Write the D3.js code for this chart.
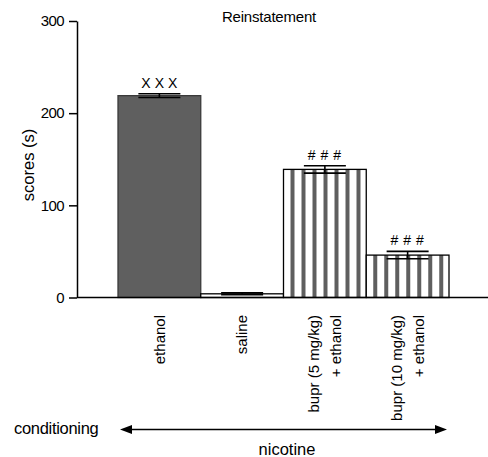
<!DOCTYPE html>
<html>
<head>
<meta charset="utf-8">
<script src="https://cdn.jsdelivr.net/npm/d3@7"></script>
<style>
  html, body { margin: 0; padding: 0; background: #fff; }
  svg { display: block; font-family: "Liberation Sans", Arial, Helvetica, sans-serif; }
</style>
</head>
<body>
<svg id="chart" width="488" height="457"></svg>
<script>
// ---- data ----
const categories = ["ethanol", "saline", "bupr5", "bupr10"];
const categoryLabels = [["ethanol"], ["saline"], ["bupr (5 mg/kg)", "+ ethanol"], ["bupr (10 mg/kg)", "+ ethanol"]];
const meanScores = [219, 4, 139, 46];
const semScores = [2, 1, 4, 4];
const sigLabels = ["XXX", "", "###", "###"];
const yTicks = [0, 100, 200, 300];
const chartTitle = "Reinstatement";
const yTitle = "scores (s)";
const conditioningLabel = "conditioning";
const drugLabel = "nicotine";

// ---- styles (by index) ----
const barStyle = ["solid", "white", "stripe", "stripe"];
const GRAY = "#5f5f5f";

const svg = d3.select("#chart");
const defs = svg.append("defs");

const x = d3.scaleBand().domain(categories).range([118, 449]).padding(0);
const y = d3.scaleLinear().domain([0, 300]).range([297.5, 21]);
const bw = x.bandwidth();

// stripe patterns
categories.forEach((c, i) => {
  if (barStyle[i] !== "stripe") return;
  const p = defs.append("pattern")
    .attr("id", "stripe" + i)
    .attr("patternUnits", "userSpaceOnUse")
    .attr("x", x(c)).attr("y", 0)
    .attr("width", 11).attr("height", 10);
  p.append("rect").attr("width", 11).attr("height", 10).attr("fill", "#fff");
  p.append("rect").attr("x", 7).attr("width", 4).attr("height", 10).attr("fill", GRAY);
});

// title
svg.append("text")
  .attr("x", 269).attr("y", 22)
  .attr("text-anchor", "middle")
  .attr("font-size", 15)
  .attr("letter-spacing", -0.2)
  .text(chartTitle);

// bars
const data = categories.map((c, i) => ({ c, i, m: meanScores[i], s: semScores[i], sig: sigLabels[i] }));

svg.append("g").selectAll("rect").data(data).join("rect")
  .attr("x", d => x(d.c))
  .attr("y", d => y(d.m))
  .attr("width", bw)
  .attr("height", d => y(0) - y(d.m))
  .attr("fill", d => barStyle[d.i] === "solid" ? GRAY : barStyle[d.i] === "stripe" ? `url(#stripe${d.i})` : "#fff")
  .attr("stroke", d => barStyle[d.i] === "solid" ? "#3a3a3a" : "#000")
  .attr("stroke-width", 1.3);

// error bars
const capHalf = 21;
const eb = svg.append("g").attr("stroke", "#000").attr("stroke-width", 1.6);
data.forEach(d => {
  const cx = x(d.c) + bw / 2;
  eb.append("line").attr("x1", cx).attr("x2", cx).attr("y1", y(d.m + d.s)).attr("y2", y(Math.max(0, d.m - d.s)));
  eb.append("line").attr("x1", cx - capHalf).attr("x2", cx + capHalf).attr("y1", y(d.m + d.s)).attr("y2", y(d.m + d.s));
  eb.append("line").attr("x1", cx - capHalf).attr("x2", cx + capHalf).attr("y1", y(Math.max(0, d.m - d.s))).attr("y2", y(Math.max(0, d.m - d.s)));
});

// significance labels
svg.append("g").selectAll("text").data(data.filter(d => d.sig)).join("text")
  .attr("x", d => x(d.c) + bw / 2 + 2)
  .attr("y", d => y(d.m + d.s) - 6)
  .attr("text-anchor", "middle")
  .attr("font-size", 14)
  .attr("letter-spacing", d => d.sig === "XXX" ? 4 : 5)
  .text(d => d.sig);

// y axis
const yAxis = d3.axisLeft(y).tickValues(yTicks).tickSize(8).tickSizeOuter(0).tickPadding(5);
const gy = svg.append("g").attr("transform", "translate(77,0)").call(yAxis);
gy.select(".domain").attr("stroke-width", 1.5);
gy.selectAll(".tick line").attr("stroke-width", 1.5);
gy.selectAll(".tick text")
  .attr("font-size", 15)
  .attr("font-family", "Liberation Sans, Arial, sans-serif")
  .attr("letter-spacing", -0.6)
  .attr("fill", "#000");

// x baseline
svg.append("line")
  .attr("x1", 77).attr("x2", 488)
  .attr("y1", y(0)).attr("y2", y(0))
  .attr("stroke", "#000").attr("stroke-width", 1.5);

// y title
svg.append("text")
  .attr("transform", `translate(28,${165}) rotate(-90)`)
  .attr("text-anchor", "middle")
  .attr("dy", "0.35em")
  .attr("font-size", 16.5)
  .text(yTitle);

// category labels
const lineGap = 22;
data.forEach(d => {
  const lines = categoryLabels[d.i];
  const g = svg.append("g")
    .attr("transform", `translate(${x(d.c) + bw / 2},315) rotate(-90)`);
  lines.forEach((t, k) => {
    g.append("text")
      .attr("x", 0)
      .attr("y", (k - (lines.length - 1) / 2) * lineGap)
      .attr("dy", "0.35em")
      .attr("text-anchor", "end")
      .attr("font-size", 15)
      .text(t);
  });
});

// bottom: conditioning arrow
svg.append("text")
  .attr("x", 14).attr("y", 434)
  .attr("font-size", 16.5)
  .attr("letter-spacing", -0.3)
  .text(conditioningLabel);

const ay = 429.5, ax1 = 120, ax2 = 447, ah = 12, aw = 4.5;
svg.append("line")
  .attr("x1", ax1 + 4).attr("x2", ax2 - 4)
  .attr("y1", ay).attr("y2", ay)
  .attr("stroke", "#000").attr("stroke-width", 1.6);
svg.append("path")
  .attr("d", `M${ax1},${ay} L${ax1 + ah},${ay - aw} L${ax1 + ah},${ay + aw} Z`)
  .attr("fill", "#000");
svg.append("path")
  .attr("d", `M${ax2},${ay} L${ax2 - ah},${ay - aw} L${ax2 - ah},${ay + aw} Z`)
  .attr("fill", "#000");

svg.append("text")
  .attr("x", 287).attr("y", 455)
  .attr("text-anchor", "middle")
  .attr("font-size", 16.5)
  .text(drugLabel);
</script>
</body>
</html>
